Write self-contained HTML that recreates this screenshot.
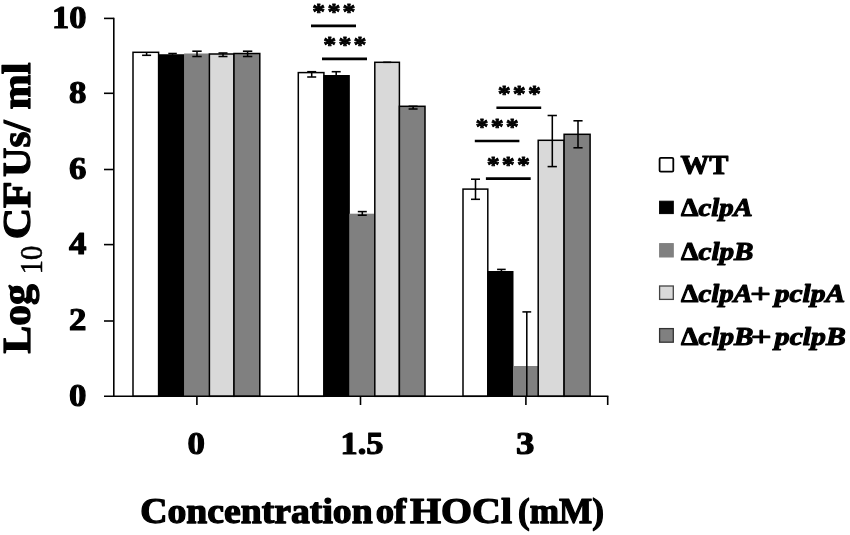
<!DOCTYPE html>
<html lang="en">
<head>
<meta charset="utf-8">
<title>Log10 CFUs/ml vs Concentration of HOCl</title>
<style>
html,body{margin:0;padding:0;background:#fff;}
body{width:850px;height:535px;overflow:hidden;}
svg{display:block;will-change:transform;}
text{font-family:"Liberation Serif","DejaVu Serif",serif;font-weight:bold;fill:#000;}
.t{stroke:#000;stroke-width:1.25px;stroke-linejoin:round;}
.ts{stroke:#000;stroke-width:0.8px;stroke-linejoin:round;}
.tk{stroke:#000;stroke-width:1.1px;stroke-linejoin:round;}
.tl{stroke:#000;stroke-width:1.1px;stroke-linejoin:round;}
.i{font-style:italic;}
.plus{stroke-width:0.8px;}
.sub{font-weight:normal;stroke-width:0.5px;}
.ax{stroke:#000;stroke-width:1.6;fill:none;}
.eb{stroke:#000;stroke-width:1.55;fill:none;}
.sig{stroke:#000;stroke-width:2.6;}
</style>
</head>
<body>
<svg width="850" height="535" viewBox="0 0 850 535">
<rect x="0" y="0" width="850" height="535" fill="#ffffff"/>

<g>
<rect x="133.0" y="52.3" width="25.6" height="344.0" fill="#ffffff" stroke="#000" stroke-width="1.5"/>
<rect x="158.6" y="54.8" width="25.5" height="341.5" fill="#000000" stroke="#000" stroke-width="1"/>
<rect x="184.1" y="53.5" width="25.3" height="342.8" fill="#808080" stroke="none"/>
<rect x="209.4" y="54.0" width="24.6" height="342.3" fill="#d9d9d9" stroke="#000" stroke-width="1.5"/>
<rect x="234.0" y="53.5" width="25.8" height="342.8" fill="#808080" stroke="#000" stroke-width="1.5"/>
<rect x="298.3" y="72.6" width="25.6" height="323.7" fill="#ffffff" stroke="#000" stroke-width="1.5"/>
<rect x="323.9" y="75.5" width="25.4" height="320.8" fill="#000000" stroke="#000" stroke-width="1"/>
<rect x="349.3" y="213.7" width="25.5" height="182.6" fill="#808080" stroke="none"/>
<rect x="374.8" y="62.3" width="24.6" height="334.0" fill="#d9d9d9" stroke="#000" stroke-width="1.5"/>
<rect x="399.4" y="106.3" width="25.6" height="290.0" fill="#808080" stroke="#000" stroke-width="1.5"/>
<rect x="463.0" y="189.1" width="24.8" height="207.2" fill="#ffffff" stroke="#000" stroke-width="1.5"/>
<rect x="487.8" y="271.5" width="25.2" height="124.8" fill="#000000" stroke="#000" stroke-width="1"/>
<rect x="513.0" y="366.0" width="25.2" height="30.3" fill="#808080" stroke="none"/>
<rect x="538.2" y="140.3" width="25.9" height="256.0" fill="#d9d9d9" stroke="#000" stroke-width="1.5"/>
<rect x="564.1" y="134.3" width="26.0" height="262.0" fill="#808080" stroke="#000" stroke-width="1.5"/>
</g>
<g class="eb">
<line x1="146.6" y1="52.3" x2="146.6" y2="55.3"/>
<line x1="142.1" y1="55.3" x2="151.1" y2="55.3"/>
<line x1="172.6" y1="53.5" x2="172.6" y2="54.8"/>
<line x1="168.3" y1="53.5" x2="176.8" y2="53.5"/>
<line x1="197.0" y1="51.2" x2="197.0" y2="56.5"/>
<line x1="192.3" y1="51.2" x2="201.7" y2="51.2"/>
<line x1="192.3" y1="56.5" x2="201.7" y2="56.5"/>
<line x1="223.0" y1="53.0" x2="223.0" y2="56.5"/>
<line x1="218.5" y1="53.0" x2="227.5" y2="53.0"/>
<line x1="218.5" y1="56.5" x2="227.5" y2="56.5"/>
<line x1="247.6" y1="51.2" x2="247.6" y2="56.5"/>
<line x1="242.9" y1="51.2" x2="252.3" y2="51.2"/>
<line x1="242.9" y1="56.5" x2="252.3" y2="56.5"/>
<line x1="311.7" y1="71.7" x2="311.7" y2="77.0"/>
<line x1="307.2" y1="71.7" x2="316.2" y2="71.7"/>
<line x1="307.2" y1="77.0" x2="316.2" y2="77.0"/>
<line x1="336.2" y1="71.7" x2="336.2" y2="75.5"/>
<line x1="331.7" y1="71.7" x2="340.7" y2="71.7"/>
<line x1="362.3" y1="211.6" x2="362.3" y2="215.2"/>
<line x1="357.8" y1="211.6" x2="366.8" y2="211.6"/>
<line x1="357.8" y1="215.2" x2="366.8" y2="215.2"/>
<line x1="387.2" y1="62.3" x2="387.2" y2="63.0"/>
<line x1="383.2" y1="62.3" x2="391.2" y2="62.3"/>
<line x1="413.1" y1="106.3" x2="413.1" y2="109.0"/>
<line x1="408.6" y1="106.3" x2="417.6" y2="106.3"/>
<line x1="408.6" y1="109.0" x2="417.6" y2="109.0"/>
<line x1="475.5" y1="179.2" x2="475.5" y2="199.3"/>
<line x1="471.0" y1="179.2" x2="480.0" y2="179.2"/>
<line x1="471.0" y1="199.3" x2="480.0" y2="199.3"/>
<line x1="501.4" y1="269.4" x2="501.4" y2="271.5"/>
<line x1="497.1" y1="269.4" x2="505.7" y2="269.4"/>
<line x1="526.8" y1="311.9" x2="526.8" y2="396.3"/>
<line x1="522.4" y1="311.9" x2="531.2" y2="311.9"/>
<line x1="552.3" y1="115.5" x2="552.3" y2="166.6"/>
<line x1="547.6" y1="115.5" x2="556.9" y2="115.5"/>
<line x1="547.6" y1="166.6" x2="556.9" y2="166.6"/>
<line x1="578.0" y1="120.8" x2="578.0" y2="147.8"/>
<line x1="573.4" y1="120.8" x2="582.6" y2="120.8"/>
<line x1="573.4" y1="147.8" x2="582.6" y2="147.8"/>
</g>
<g class="ax">
<line x1="113.8" y1="17.7" x2="113.8" y2="396.3"/>
<line x1="104" y1="396.3" x2="608.4" y2="396.3"/>
<line x1="104" y1="321.0" x2="113.8" y2="321.0"/>
<line x1="104" y1="244.6" x2="113.8" y2="244.6"/>
<line x1="104" y1="169.5" x2="113.8" y2="169.5"/>
<line x1="104" y1="93.3" x2="113.8" y2="93.3"/>
<line x1="104" y1="18.4" x2="113.8" y2="18.4"/>
<line x1="196.9" y1="396.3" x2="196.9" y2="405"/>
<line x1="360.5" y1="396.3" x2="360.5" y2="405"/>
<line x1="525.9" y1="396.3" x2="525.9" y2="405"/>
<line x1="607.7" y1="396.3" x2="607.7" y2="405"/>
</g>
<g class="tk" font-size="30.6" text-anchor="end">
<text x="86.4" y="405.6" textLength="17.4" lengthAdjust="spacingAndGlyphs">0</text>
<text x="86.4" y="330.3" textLength="17.4" lengthAdjust="spacingAndGlyphs">2</text>
<text x="86.4" y="253.9" textLength="17.4" lengthAdjust="spacingAndGlyphs">4</text>
<text x="86.4" y="178.8" textLength="17.4" lengthAdjust="spacingAndGlyphs">6</text>
<text x="86.4" y="102.6" textLength="17.4" lengthAdjust="spacingAndGlyphs">8</text>
<text x="86.4" y="27.7" textLength="34.4" lengthAdjust="spacingAndGlyphs">10</text>
</g>
<g class="tk" font-size="30.6" text-anchor="middle">
<text x="196.3" y="454.1" textLength="17.4" lengthAdjust="spacingAndGlyphs">0</text>
<text x="362.0" y="454.1" textLength="43" lengthAdjust="spacingAndGlyphs">1.5</text>
<text x="525.2" y="454.1" textLength="18.4" lengthAdjust="spacingAndGlyphs">3</text>
</g>
<text class="t" font-size="35" y="523.0"><tspan x="140.2" textLength="232.5" lengthAdjust="spacingAndGlyphs">Concentration</tspan> <tspan x="375.8" textLength="30.5" lengthAdjust="spacingAndGlyphs">of</tspan> <tspan x="410.0" textLength="102" lengthAdjust="spacingAndGlyphs">HOCl</tspan> <tspan x="518.0" textLength="86" lengthAdjust="spacingAndGlyphs">(mM)</tspan></text>
<g transform="translate(30.1,0) rotate(-90)">
<text class="t" font-size="40" y="0"><tspan x="-353.6" textLength="69.3" lengthAdjust="spacingAndGlyphs">Log</tspan> <tspan class="sub" font-size="31" x="-274.2" y="11.6" textLength="28.6" lengthAdjust="spacingAndGlyphs">10</tspan> <tspan x="-239.3" y="0" textLength="58" lengthAdjust="spacingAndGlyphs">CF</tspan><tspan x="-177.0" y="0" textLength="56.6" lengthAdjust="spacingAndGlyphs">Us/</tspan> <tspan x="-109.5" y="0" textLength="46.9" lengthAdjust="spacingAndGlyphs">ml</tspan></text>
</g>
<line class="sig" x1="311.0" y1="25.85" x2="356.0" y2="25.85"/>
<text class="ts" font-size="24.0" transform="translate(312.3,18.6) scale(1.08,1)" x="0 13.98 27.96" y="0">***</text>
<line class="sig" x1="322.0" y1="58.85" x2="367.0" y2="58.85"/>
<text class="ts" font-size="24.0" transform="translate(323.3,51.6) scale(1.08,1)" x="0 13.98 27.96" y="0">***</text>
<line class="sig" x1="496.4" y1="107.75" x2="541.2" y2="107.75"/>
<text class="ts" font-size="24.0" transform="translate(497.7,100.8) scale(1.08,1)" x="0 13.98 27.96" y="0">***</text>
<line class="sig" x1="474.8" y1="140.95" x2="519.4" y2="140.95"/>
<text class="ts" font-size="24.0" transform="translate(475.6,133.7) scale(1.08,1)" x="0 13.98 27.96" y="0">***</text>
<line class="sig" x1="485.9" y1="178.65" x2="530.7" y2="178.65"/>
<text class="ts" font-size="24.0" transform="translate(486.7,172.0) scale(1.08,1)" x="0 13.98 27.96" y="0">***</text>
<rect x="659.6" y="157.8" width="13.7" height="13.8" fill="#ffffff" stroke="#000" stroke-width="1.8" rx="1.2"/>
<rect x="659.6" y="201.2" width="13.7" height="12.4" fill="#000000" stroke="#000" stroke-width="1"/>
<rect x="659.6" y="243.6" width="13.7" height="13.4" fill="#808080" stroke="#808080" stroke-width="1"/>
<rect x="659.6" y="286.0" width="13.7" height="13.4" fill="#d9d9d9" stroke="#444" stroke-width="1.3"/>
<rect x="659.6" y="328.6" width="13.7" height="13.6" fill="#808080" stroke="#333" stroke-width="1.3"/>
<text class="tl" font-size="27" x="680.6" y="174.0" textLength="47.8" lengthAdjust="spacingAndGlyphs">WT</text>
<text class="tl" font-size="25.5" y="216.4"><tspan x="681.0" textLength="17.4" lengthAdjust="spacingAndGlyphs">Δ</tspan><tspan class="i" x="698.5" textLength="54.3" lengthAdjust="spacingAndGlyphs">clpA</tspan></text>
<text class="tl" font-size="25.5" y="259.5"><tspan x="681.0" textLength="17.4" lengthAdjust="spacingAndGlyphs">Δ</tspan><tspan class="i" x="698.5" textLength="55" lengthAdjust="spacingAndGlyphs">clpB</tspan></text>
<text class="tl" font-size="25.5" y="301.9"><tspan x="681.0" textLength="17.4" lengthAdjust="spacingAndGlyphs">Δ</tspan><tspan class="i" x="698.5" textLength="54.3" lengthAdjust="spacingAndGlyphs">clpA</tspan><tspan class="plus" font-size="27" x="750.0" dy="1" textLength="21" lengthAdjust="spacingAndGlyphs">+</tspan> <tspan class="i" x="774.8" dy="-1" textLength="70.4" lengthAdjust="spacingAndGlyphs">pclpA</tspan></text>
<text class="tl" font-size="25.5" y="345.0"><tspan x="681.0" textLength="17.4" lengthAdjust="spacingAndGlyphs">Δ</tspan><tspan class="i" x="698.5" textLength="55" lengthAdjust="spacingAndGlyphs">clpB</tspan><tspan class="plus" font-size="27" x="750.8" dy="1" textLength="21" lengthAdjust="spacingAndGlyphs">+</tspan> <tspan class="i" x="774.8" dy="-1" textLength="71" lengthAdjust="spacingAndGlyphs">pclpB</tspan></text>
</svg>
</body>
</html>
